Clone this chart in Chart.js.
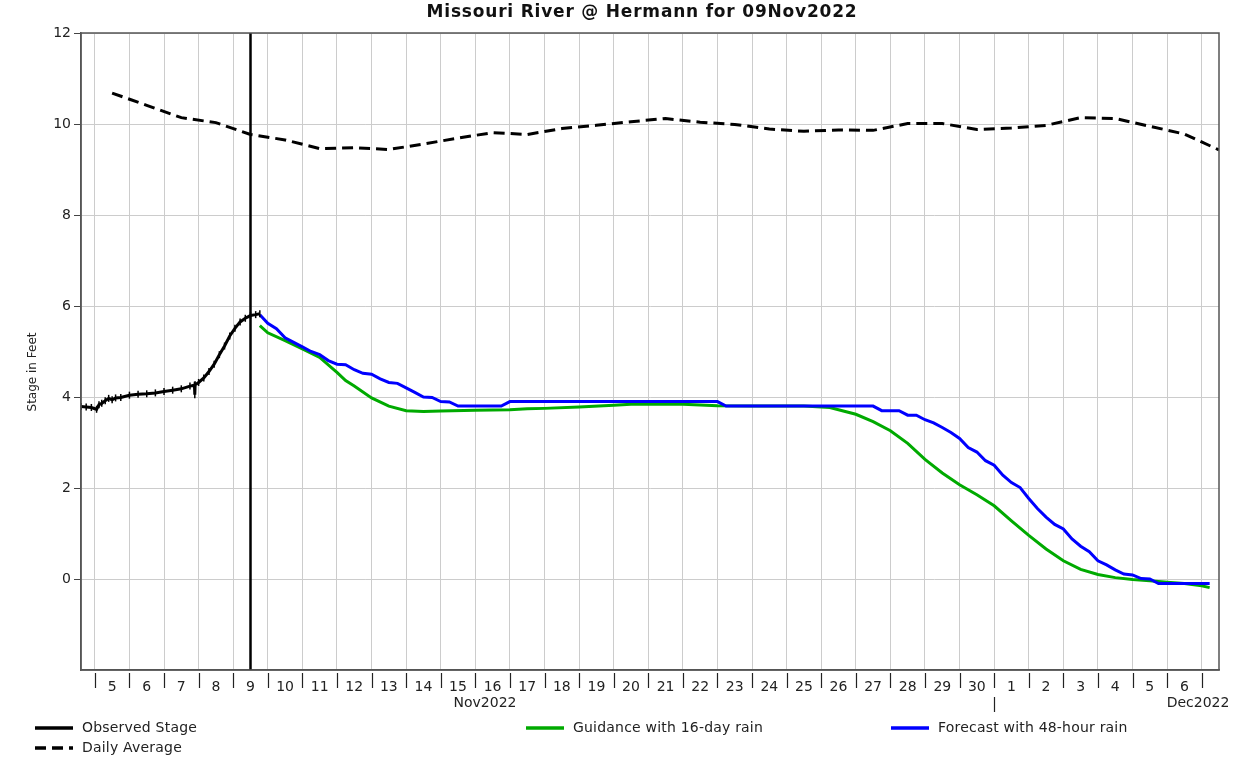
<!DOCTYPE html>
<html>
<head>
<meta charset="utf-8">
<title>Missouri River @ Hermann</title>
<script src="https://cdn.jsdelivr.net/npm/chart.js@4.4.0/dist/chart.umd.min.js"></script>
<style>
  html, body { margin: 0; padding: 0; background: #fff; }
  canvas { display: block; }
</style>
</head>
<body>
<canvas id="hydrograph" width="1254" height="760"></canvas>
<script>
// Time runs in days on a Nov 2022 day-of-month scale: 5.5 = 5 Nov 12:00, 31 = 1 Dec 00:00.
const issueTime = 9.48;

// Observed stage (ft)
const obsTime = [4.6, 4.75, 4.9, 5.05, 5.12, 5.2, 5.3, 5.4, 5.5, 5.6, 5.75, 6.0, 6.25, 6.5, 6.75, 7.0, 7.25, 7.5,
  7.75, 7.88, 7.89, 7.9, 8.0, 8.15, 8.3, 8.45, 8.6, 8.75, 8.9, 9.05, 9.2, 9.35, 9.5, 9.65, 9.77];
const obsStage = [3.79, 3.78, 3.77, 3.73, 3.83, 3.86, 3.92, 3.97, 3.94, 3.98, 3.99, 4.04, 4.06, 4.07, 4.09, 4.12, 4.15, 4.18,
  4.24, 4.26, 4.05, 4.27, 4.32, 4.42, 4.56, 4.72, 4.93, 5.12, 5.34, 5.51, 5.65, 5.73, 5.79, 5.81, 5.83];

// Daily average stage, one value per day at noon
const avgTime = [5.5, 6.5, 7.5, 8.5, 9.5, 10.5, 11.5, 12.5, 13.5, 14.5, 15.5, 16.5, 17.5, 18.5, 19.5, 20.5, 21.5,
  22.5, 23.5, 24.5, 25.5, 26.5, 27.5, 28.5, 29.5, 30.5, 31.5, 32.5, 33.5, 34.5, 35.5, 36.5, 37.5];
const avgStage = [10.68, 10.41, 10.14, 10.03, 9.77, 9.65, 9.46, 9.48, 9.44, 9.56, 9.69, 9.81, 9.77, 9.90, 9.97, 10.05, 10.12,
  10.04, 9.99, 9.89, 9.84, 9.87, 9.86, 10.01, 10.01, 9.88, 9.91, 9.97, 10.14, 10.12, 9.95, 9.78, 9.43];

// Guidance with 16-day rain
const guideTime = [9.77, 10.0, 10.5, 11.0, 11.5, 12.0, 12.25, 12.5, 13.0, 13.5, 14.0, 14.5, 15.0, 16.0, 17.0, 17.5,
  18.0, 19.0, 20.0, 20.5, 22.0, 23.0, 24.0, 25.5, 26.25, 27.0, 27.5, 28.0, 28.5, 29.0, 29.5, 30.0, 30.5, 31.0,
  31.5, 32.0, 32.5, 33.0, 33.5, 34.0, 34.5, 35.0, 35.5, 36.0, 36.5, 37.0, 37.23];
const guideStage = [5.57, 5.41, 5.24, 5.06, 4.87, 4.54, 4.36, 4.24, 3.98, 3.80, 3.70, 3.68, 3.69, 3.71, 3.72, 3.74,
  3.75, 3.78, 3.82, 3.84, 3.84, 3.81, 3.80, 3.80, 3.77, 3.62, 3.46, 3.26, 2.98, 2.63, 2.33, 2.07, 1.85, 1.61,
  1.28, 0.96, 0.66, 0.40, 0.21, 0.10, 0.03, -0.01, -0.04, -0.07, -0.10, -0.15, -0.19];

// Forecast with 48-hour rain
const fcstTime = [9.77, 10.0, 10.25, 10.5, 10.75, 11.0, 11.25, 11.5, 11.75, 12.0, 12.25, 12.5, 12.75, 13.0, 13.25,
  13.5, 13.75, 14.0, 14.25, 14.5, 14.75, 15.0, 15.25, 15.5, 16.75, 17.0, 23.0, 23.25, 27.5, 27.75, 28.25, 28.5,
  28.75, 29.0, 29.25, 29.5, 29.75, 30.0, 30.25, 30.5, 30.75, 31.0, 31.25, 31.5, 31.75, 32.0, 32.25, 32.5, 32.75,
  33.0, 33.25, 33.5, 33.75, 34.0, 34.25, 34.5, 34.75, 35.0, 35.25, 35.5, 35.75, 37.23];
const fcstStage = [5.81, 5.62, 5.50, 5.30, 5.20, 5.10, 5.00, 4.93, 4.80, 4.72, 4.71, 4.60, 4.52, 4.50, 4.40,
  4.32, 4.30, 4.20, 4.10, 4.00, 3.99, 3.90, 3.89, 3.80, 3.80, 3.90, 3.90, 3.80, 3.80, 3.70, 3.70, 3.60,
  3.60, 3.50, 3.43, 3.33, 3.22, 3.09, 2.89, 2.79, 2.60, 2.50, 2.28, 2.12, 2.01, 1.77, 1.55, 1.36, 1.20,
  1.10, 0.88, 0.72, 0.60, 0.40, 0.31, 0.20, 0.11, 0.09, 0.01, 0.00, -0.10, -0.10];

const xMin = 4.6, xMax = 37.5;
const firstDay = 5, lastDay = 37;

const toPoints = (xs, ys) => xs.map((x, i) => ({x: x, y: ys[i]}));
const dayLabel = v => {
    const d = Math.floor(v);
    return d > 30 ? d - 30 : d;
};

const FONT = '"DejaVu Sans", Verdana, sans-serif';

// Frame, day ticks, month names, titles and legend
const decorations = {
    id: 'decorations',
    beforeDatasetsDraw(chart) {
        const {ctx, chartArea: a, scales: {x}} = chart;
        const px = Math.round(x.getPixelForValue(issueTime)) + 0.5;
        ctx.save();
        ctx.strokeStyle = '#000';
        ctx.lineWidth = 2.5;
        ctx.beginPath();
        ctx.moveTo(px, a.top);
        ctx.lineTo(px, a.bottom);
        ctx.stroke();
        ctx.restore();
    },
    afterDraw(chart) {
        const {ctx, chartArea: a, scales: {x}} = chart;
        ctx.save();

        // plot frame
        ctx.strokeStyle = '#555';
        ctx.lineWidth = 1.5;
        ctx.strokeRect(a.left, a.top, a.right - a.left, a.bottom - a.top);

        // day boundary ticks under the axis
        ctx.strokeStyle = '#222';
        ctx.lineWidth = 1.2;
        ctx.beginPath();
        for (let d = firstDay; d <= lastDay; d++) {
            const px = Math.round(x.getPixelForValue(d)) + 0.5;
            ctx.moveTo(px, a.bottom + 3);
            ctx.lineTo(px, a.bottom + 18);
        }
        // month boundary
        const mpx = Math.round(x.getPixelForValue(31)) + 0.5;
        ctx.moveTo(mpx, a.bottom + 27);
        ctx.lineTo(mpx, a.bottom + 42);
        ctx.stroke();

        ctx.fillStyle = '#222';
        ctx.font = '14px ' + FONT;
        ctx.textBaseline = 'middle';
        ctx.textAlign = 'center';
        ctx.fillText('Nov2022', 485, 703);
        ctx.fillText('Dec2022', 1198, 703);

        // chart title
        ctx.font = 'bold 17px ' + FONT;
        ctx.letterSpacing = '0.8px';
        ctx.fillStyle = '#111';
        ctx.fillText('Missouri River @ Hermann for 09Nov2022', 642, 13);
        ctx.letterSpacing = '0px';

        // y axis title
        ctx.save();
        ctx.translate(33, 372);
        ctx.rotate(-Math.PI / 2);
        ctx.font = '12px ' + FONT;
        ctx.fillStyle = '#222';
        ctx.fillText('Stage in Feet', 0, 0);
        ctx.restore();

        // legend
        const items = [
            {ds: 0, x: 35, y: 728},
            {ds: 3, x: 35, y: 748},
            {ds: 2, x: 526, y: 728},
            {ds: 1, x: 891, y: 728}
        ];
        ctx.textAlign = 'left';
        ctx.font = '14px ' + FONT;
        ctx.letterSpacing = '0.2px';
        items.forEach(it => {
            const ds = chart.data.datasets[it.ds];
            ctx.strokeStyle = ds.borderColor;
            ctx.lineWidth = 3.5;
            ctx.setLineDash(ds.borderDash || []);
            ctx.beginPath();
            ctx.moveTo(it.x, it.y);
            ctx.lineTo(it.x + 38, it.y);
            ctx.stroke();
            ctx.setLineDash([]);
            ctx.fillStyle = '#222';
            ctx.fillText(ds.label, it.x + 47, it.y);
        });
        ctx.letterSpacing = '0px';

        ctx.restore();
    }
};

const ctx = document.getElementById('hydrograph').getContext('2d');

new Chart(ctx, {
    type: 'line',
    data: {
        datasets: [{
            label: 'Observed Stage',
            data: toPoints(obsTime, obsStage),
            borderColor: '#000',
            borderWidth: 3,
            pointStyle: 'line',
            pointRotation: 90,
            pointRadius: 3.5,
            pointBorderWidth: 1.5,
            pointBorderColor: '#000'
        }, {
            label: 'Forecast with 48-hour rain',
            data: toPoints(fcstTime, fcstStage),
            borderColor: '#0000ff',
            borderWidth: 3,
            pointRadius: 0
        }, {
            label: 'Guidance with 16-day rain',
            data: toPoints(guideTime, guideStage),
            borderColor: '#00aa00',
            borderWidth: 3,
            pointRadius: 0
        }, {
            label: 'Daily Average',
            data: toPoints(avgTime, avgStage),
            borderColor: '#000',
            borderWidth: 3,
            borderDash: [11, 6],
            pointRadius: 0
        }]
    },
    options: {
        responsive: false,
        animation: false,
        devicePixelRatio: 1,
        layout: {
            padding: {left: 0, right: 35, top: 33, bottom: 0}
        },
        elements: {
            line: {tension: 0, fill: false}
        },
        plugins: {
            legend: {display: false},
            title: {display: false},
            tooltip: {enabled: false}
        },
        scales: {
            x: {
                type: 'linear',
                min: xMin,
                max: xMax,
                afterBuildTicks: scale => {
                    const ticks = [];
                    for (let v = firstDay; v <= lastDay; v += 0.5) ticks.push({value: v});
                    scale.ticks = ticks;
                },
                afterFit: scale => { scale.height = 90; },
                grid: {
                    drawTicks: false,
                    lineWidth: 1,
                    color: c => Number.isInteger(c.tick.value) ? '#cccccc' : 'rgba(0,0,0,0)'
                },
                border: {color: '#555', width: 1.5},
                ticks: {
                    autoSkip: false,
                    maxRotation: 0,
                    padding: 9,
                    color: '#222',
                    font: {family: FONT, size: 14},
                    callback: v => Number.isInteger(v) ? '' : dayLabel(v)
                }
            },
            y: {
                min: -2,
                max: 12,
                afterFit: scale => { scale.width = 81; },
                grid: {
                    color: '#cccccc',
                    lineWidth: 1,
                    tickLength: 7,
                    tickColor: c => c.tick.value < 0 ? 'rgba(0,0,0,0)' : '#444'
                },
                border: {color: '#555', width: 1.5},
                ticks: {
                    stepSize: 2,
                    padding: 3,
                    color: '#222',
                    font: {family: FONT, size: 14},
                    callback: v => v < 0 ? '' : v
                }
            }
        }
    },
    plugins: [decorations]
});
</script>
</body>
</html>
